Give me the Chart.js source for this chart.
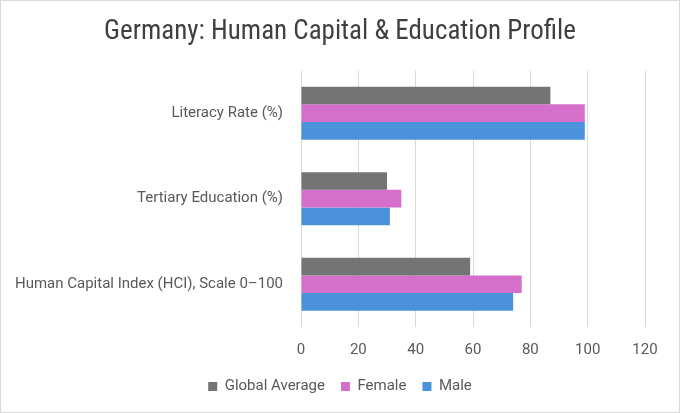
<!DOCTYPE html>
<html>
<head>
<meta charset="utf-8">
<script src="https://cdn.jsdelivr.net/npm/chart.js@4.4.0/dist/chart.umd.min.js"></script>
<style>
  html, body { margin: 0; padding: 0; background: #fff; }
  #wrap { width: 678px; height: 411px; border: 1px solid #d9d9d9; position: relative; }
</style>
</head>
<body>
<div id="wrap"><canvas id="hcChart" width="678" height="411"></canvas></div>
<script>
const categories = ["Literacy Rate (%)", "Tertiary Education (%)", "Human Capital Index (HCI), Scale 0\u2013100"];
const globalAverage = [87, 30, 59];
const female = [99, 35, 77];
const male = [99, 31, 74];
const xTicks = [0, 20, 40, 60, 80, 100, 120];

const labelFont = { family: "Roboto, 'Open Sans', sans-serif", size: 15 };

const ctx = document.getElementById("hcChart").getContext("2d");
new Chart(ctx, {
    type: "bar",
    data: {
        labels: categories,
        datasets: [
            { label: "Global Average", data: globalAverage, backgroundColor: "#747474" },
            { label: "Female", data: female, backgroundColor: "#D56FCB" },
            { label: "Male", data: male, backgroundColor: "#4A92DA" },
        ],
    },
    options: {
        indexAxis: "y",
        responsive: false,
        animation: false,
        categoryPercentage: 0.62,
        barPercentage: 1.0,
        layout: { padding: { left: 10, right: 10, top: 4, bottom: 8 } },
        plugins: {
            title: {
                display: true,
                text: "Germany: Human Capital & Education Profile",
                color: "#404040",
                font: { family: "'Liberation Sans Narrow', 'Roboto Condensed', Roboto, sans-serif", size: 27, weight: "normal" },
                padding: { top: 11, bottom: 22 },
            },
            legend: {
                position: "bottom",
                labels: {
                    color: "#595959",
                    font: labelFont,
                    boxWidth: 9,
                    boxHeight: 9,
                    padding: 16,
                },
            },
            tooltip: { enabled: false },
        },
        scales: {
            x: {
                min: xTicks[0],
                max: xTicks[xTicks.length - 1],
                ticks: { stepSize: 20, color: "#595959", font: labelFont, padding: 14 },
                grid: { color: "#d9d9d9", drawTicks: false },
                border: { display: false },
                afterFit: (scale) => { scale.height = scale.height - 10; },
            },
            y: {
                ticks: { color: "#595959", font: labelFont, padding: 18 },
                grid: { display: false, drawTicks: false },
                border: { display: false },
                afterFit: (scale) => { scale.width = 290; },
            },
            yRight: {
                position: "right",
                ticks: { display: false },
                grid: { display: false, drawTicks: false },
                border: { display: false },
                afterFit: (scale) => { scale.width = 24; },
            },
        },
    },
});
</script>
</body>
</html>
